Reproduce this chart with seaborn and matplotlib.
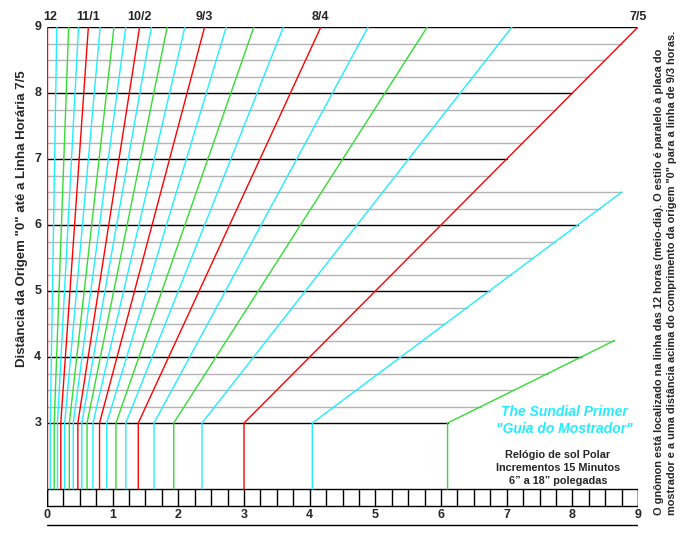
import numpy as np
import pandas as pd
import matplotlib
matplotlib.use("Agg")
import matplotlib.pyplot as plt
import seaborn as sns

sns.set_style("white")
plt.rcParams['font.family'] = ['Liberation Sans', 'DejaVu Sans']

# hour line positions on the y=3 line (15 min steps from 12)
hour_x3 = [0, .05, .11, .16, .21, .27, .34, .40, .47, .53, .61, .70, .80, .91,
           1.05, 1.20, 1.39, 1.63, 1.93, 2.36, 3.0, 4.04, 6.1]
hour_end_y = [9] * 21 + [6.5, 4.25]
hour_cols = ['#ff0000', '#22eeff', '#33dd33', '#22eeff']
hour_labels = ["12", "11/1", "10/2", "9/3", "8/4", "7/5"]
y_ticks = [3, 4, 5, 6, 7, 8, 9]
x_ticks = [0, 1, 2, 3, 4, 5, 6, 7, 8, 9]

fig = plt.figure(figsize=(6.82, 5.34), dpi=100)
ax = fig.add_axes([0.0689, 0.0101, 0.8666, 0.9393])

slopes = [x / 3 for x in hour_x3]

# horizontal lines, ending at the outermost hour line
for lv in np.arange(3, 9.01, 0.25):
    xe = max(s * lv for s, ye in zip(slopes, hour_end_y) if ye >= lv - 1e-9)
    major = abs(lv - round(lv)) < 1e-9
    ax.plot([0, xe], [lv, lv], color='black' if major else '#b4b4b4',
            lw=1.0, zorder=2 if major else 1)

# hour lines
rows = []
for i, (x3, ye) in enumerate(zip(hour_x3, hour_end_y)):
    s = slopes[i]
    for xx, yy in [(x3, 2.0), (x3, 3.0), (s * ye, ye)]:
        rows.append({'id': i, 'x': xx, 'y': yy})
df = pd.DataFrame(rows)
pal = {i: hour_cols[i % 4] for i in range(len(hour_x3))}
sns.lineplot(data=df, x='x', y='y', hue='id', units='id', estimator=None,
             sort=False, palette=pal, legend=False, lw=1.0, ax=ax, zorder=3)
ax.set_xlim(0, 9)
ax.set_ylim(1.4, 9)
ax.axis('off')

for k, lab in enumerate(hour_labels):
    xs = hour_x3[4 * k] * 3
    ax.text(xs + (0.05 if k == 0 else 0), 9.06, lab, ha='center', va='bottom',
            fontsize=9, fontweight='bold', clip_on=False)

# ruler
ax.plot([0, 9, 9, 0, 0], [2.0, 2.0, 1.74, 1.74, 2.0], color='black', lw=1.0)
for xr in np.arange(0, 9.01, 0.25):
    ax.plot([xr, xr], [1.74, 2.0], color='black', lw=1.0)
ax.plot([0, 9], [1.45, 1.45], color='black', lw=1.0)
for xt in x_ticks:
    ax.text(xt, 1.6, str(xt), ha='center', va='center', fontsize=9, fontweight='bold')
for yt in y_ticks:
    ax.text(-0.14, yt, str(yt), ha='center', va='center', fontsize=9, fontweight='bold')

ax.text(-0.38, 6.1, 'Distância da Origem "0" até a Linha Horária 7/5', rotation=90,
        ha='center', va='center', fontsize=9.5, fontweight='bold', clip_on=False)

ax.text(9.32, 1.6, 'O gnômon está localizado na linha das 12 horas (meio-dia). O estilo é paralelo à placa do',
        rotation=90, ha='center', va='bottom', fontsize=7.9, fontweight='bold', clip_on=False)
ax.text(9.52, 1.6, 'mostrador e a uma distância acima do comprimento da origem "0" para a linha de 9/3 horas.',
        rotation=90, ha='center', va='bottom', fontsize=7.9, fontweight='bold', clip_on=False)

ax.text(7.88, 3.17, 'The Sundial Primer', ha='center', va='center', fontsize=10,
        color='#22eeff', fontweight='bold', style='italic')
ax.text(7.88, 2.91, '"Guia do Mostrador"', ha='center', va='center', fontsize=10,
        color='#22eeff', fontweight='bold', style='italic')
ax.text(7.78, 2.52, 'Relógio de sol Polar', ha='center', va='center', fontsize=7.8, fontweight='bold')
ax.text(7.78, 2.32, 'Incrementos 15 Minutos', ha='center', va='center', fontsize=7.8, fontweight='bold')
ax.text(7.78, 2.12, '6” a 18” polegadas', ha='center', va='center', fontsize=7.8, fontweight='bold')

fig.savefig('out.png', dpi=100)
